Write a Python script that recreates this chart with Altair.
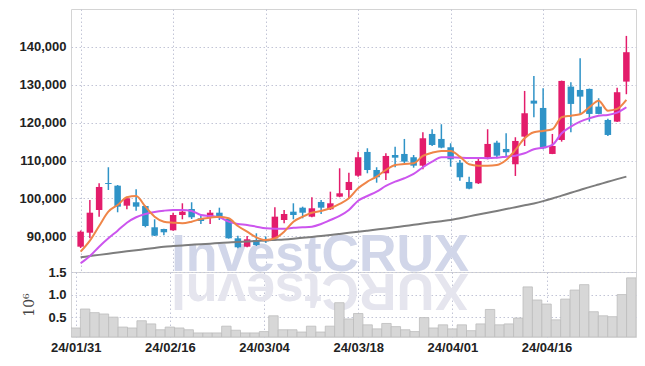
import altair as alt
import pandas as pd

# ---------------- data ----------------
dates = [
    "24/01/31", "24/02/01", "24/02/02", "24/02/05", "24/02/06", "24/02/07", "24/02/08",
    "24/02/13", "24/02/14", "24/02/15", "24/02/16", "24/02/19", "24/02/20", "24/02/21",
    "24/02/22", "24/02/23", "24/02/26", "24/02/27", "24/02/28", "24/02/29", "24/03/04",
    "24/03/05", "24/03/06", "24/03/07", "24/03/08", "24/03/11", "24/03/12", "24/03/13",
    "24/03/14", "24/03/15", "24/03/18", "24/03/19", "24/03/20", "24/03/21", "24/03/22",
    "24/03/25", "24/03/26", "24/03/27", "24/03/28", "24/03/29", "24/04/01", "24/04/02",
    "24/04/03", "24/04/04", "24/04/05", "24/04/08", "24/04/09", "24/04/11", "24/04/12",
    "24/04/15", "24/04/16", "24/04/17", "24/04/18", "24/04/19", "24/04/22", "24/04/23",
    "24/04/24", "24/04/25", "24/04/26", "24/04/29",
]

open_ = [
    87280, 90970, 96960, 104090, 103380, 98100, 99000, 98020, 92400, 91950,
    91600, 95640, 97230, 94770, 94930, 96250, 94590, 89490, 87280, 89040,
    88900, 89490, 94320, 96520, 97570, 95200, 99080, 97150, 100480, 102240,
    106020, 112280, 107520, 106650, 111480, 111750, 110880, 108660, 117030, 115710,
    113520, 109450, 104360, 104010, 110770, 114730, 113070, 109030, 116320, 125820,
    123890, 111750, 115440, 129520, 128640, 128910, 124240, 120720, 120280, 130840,
]
high = [
    91550, 99600, 104010, 108240, 103560, 100480, 102430, 98100, 94510, 92000,
    96250, 98730, 99000, 95910, 96960, 97570, 94700, 90180, 90100, 90810,
    90000, 97680, 96960, 98730, 97840, 100320, 99600, 101800, 107970, 106810,
    112360, 113250, 108240, 111930, 113680, 115710, 111480, 117480, 118270, 119590,
    114570, 110160, 105760, 110610, 118270, 115260, 117210, 116160, 128380, 132340,
    129090, 117030, 131100, 130680, 137010, 129000, 126450, 121070, 129250, 142900,
]
low = [
    86940, 89490, 95200, 102240, 96360, 97150, 96780, 92400, 90100, 90280,
    91500, 94510, 94590, 93270, 93270, 94320, 89400, 86850, 87120, 87460,
    88300, 89230, 93450, 94510, 94770, 95040, 95910, 96960, 100320, 100050,
    105760, 106650, 104170, 104880, 108240, 109290, 108130, 107710, 113860, 113250,
    108390, 104700, 102430, 103830, 110350, 110610, 111220, 105940, 113860, 121440,
    112990, 111700, 115000, 117480, 122310, 120280, 122230, 116500, 120200, 127510,
]
close = [
    91240, 96250, 103040, 103830, 97840, 100050, 97840, 92740, 90180, 91080,
    95640, 96520, 95040, 94060, 96250, 95040, 89490, 87120, 89230, 87720,
    88700, 95200, 95910, 95640, 96250, 97410, 97570, 98730, 101370, 104360,
    110880, 107520, 105600, 111220, 110770, 109720, 108660, 115890, 114120, 113410,
    110350, 105600, 102590, 109900, 114390, 111300, 112200, 115180, 122490, 125030,
    113250, 113860, 131020, 124950, 126880, 122310, 122310, 116760, 128040, 138600,
]
volume = [  # millions of shares
    0.26, 0.68, 0.60, 0.57, 0.50, 0.28, 0.26, 0.42, 0.35, 0.22,
    0.28, 0.26, 0.22, 0.15, 0.15, 0.15, 0.30, 0.21, 0.15, 0.15,
    0.18, 0.53, 0.22, 0.22, 0.17, 0.30, 0.17, 0.30, 0.82, 0.46,
    0.58, 0.33, 0.24, 0.36, 0.29, 0.22, 0.18, 0.49, 0.26, 0.33,
    0.24, 0.33, 0.20, 0.35, 0.67, 0.33, 0.35, 0.48, 1.17, 0.88,
    0.79, 0.44, 0.90, 1.10, 1.22, 0.62, 0.53, 0.51, 1.00, 1.37,
]
ma5 = [
    85960, 88860, 92740, 96520, 98280, 100320, 100660, 97840, 95200, 93880,
    93610, 93450, 93880, 94590, 94930, 95200, 94770, 92740, 91240, 89760,
    89040, 89490, 91240, 93880, 95200, 96250, 96700, 97410, 98550, 100050,
    102690, 104440, 105760, 107520, 108840, 109110, 109290, 111220, 112090, 112540,
    112540, 111040, 109030, 108660, 108660, 108840, 110160, 112800, 115890, 117480,
    117820, 118270, 121440, 121860, 122230, 124080, 125820, 123180, 123630, 126000,
]
ma10 = [
    82890, 84820, 87280, 89490, 91500, 93610, 95040, 95910, 96440, 96780,
    96960, 96960, 96700, 95640, 95380, 95040, 93880, 93270, 93000, 92560,
    92130, 92030, 92030, 92290, 92400, 92560, 93270, 94320, 95380, 96960,
    99420, 100660, 101800, 103300, 104440, 105330, 106470, 108240, 109720, 110880,
    110880, 110770, 110690, 110690, 110610, 110770, 111040, 111300, 111930, 112990,
    113410, 114120, 117210, 118960, 120280, 121170, 121860, 122040, 122650, 124080,
]
ma_long = [
    84480, 84800, 85120, 85430, 85740, 86050, 86350, 86650, 86950, 87250,
    87450, 87620, 87780, 87930, 88080, 88230, 88380, 88520, 88660, 88800,
    88930, 89060, 89200, 89390, 89620, 89860, 90120, 90380, 90650, 90930,
    91210, 91500, 91800, 92100, 92420, 92740, 93060, 93380, 93700, 94010,
    94320, 94800, 95280, 95760, 96240, 96720, 97200, 97700, 98200, 98700,
    99300, 100000, 100750, 101500, 102250, 103000, 103700, 104400, 105100, 105760,
]
tick_idx = [0, 10, 20, 30, 40, 50]
y_ticks = [90000, 100000, 110000, 120000, 130000, 140000]
vol_ticks = [0.5, 1.0, 1.5]
watermark = "InvestCRUX"

# ---------------- frame ----------------
n = len(dates)
df = pd.DataFrame({
    "idx": list(range(n)), "date": dates, "open": open_, "high": high,
    "low": low, "close": close, "volume": volume,
    "ma5": ma5, "ma10": ma10, "malong": ma_long,
})
df["dir"] = ["up" if c >= o else "down" for o, c in zip(open_, close)]

FONT = "Liberation Sans"
UP, DOWN = "#e31c6b", "#2f93c7"
GRID = "#c2c5d6"
DASH = [1.5, 2.5]

label_expr = "".join(f"datum.value == {i} ? '{dates[i]}' : " for i in tick_idx) + "''"

xdom = alt.Scale(domain=[-0.5, n - 0.5], nice=False, zero=False)
color = alt.Color("dir:N", scale=alt.Scale(domain=["up", "down"], range=[UP, DOWN]), legend=None)

x_main = alt.X("idx:Q", scale=xdom, axis=alt.Axis(
    values=tick_idx, labels=False, ticks=False, domain=False, grid=True,
    gridColor=GRID, gridDash=DASH, title=None))

y_main = alt.Y("low:Q", scale=alt.Scale(domain=[80600, 150000], nice=False, zero=False),
               axis=alt.Axis(values=y_ticks, labelExpr="format(datum.value, ',')",
                             ticks=False, domain=False, gridColor=GRID, gridDash=DASH,
                             labelPadding=5, minExtent=58, maxExtent=58, title=None))

base = alt.Chart(df)

wm = alt.Chart(alt.Data(values=[{"t": watermark}])).mark_text(
    font=FONT, fontWeight="bold", fontSize=52, color="#d1d6e9",
    align="center", baseline="alphabetic", clip=True
).encode(x=alt.value(249), y=alt.value(262), text="t:N")

wick = base.mark_rule(strokeWidth=1.5).encode(
    x=x_main, y=y_main, y2="high:Q", color=color)

body = base.mark_bar(size=6.5).encode(
    x="idx:Q", y="open:Q", y2="close:Q", color=color)

def ma_line(field, col):
    return base.mark_line(color=col, strokeWidth=2, interpolate="monotone").encode(
        x="idx:Q", y=f"{field}:Q")

main = alt.layer(
    wm, wick, body,
    ma_line("malong", "#7d7d7d"),
    ma_line("ma10", "#cc55ee"),
    ma_line("ma5", "#ef8548"),
).properties(width=565, height=263)

# volume panel
wm2 = alt.Chart(alt.Data(values=[{"t": watermark[::-1]}])).mark_text(
    font=FONT, fontWeight="bold", fontSize=52, color="#e5e5ee", angle=180,
    align="center", baseline="alphabetic", clip=True
).encode(x=alt.value(249), y=alt.value(2), text="t:N")

vol = base.transform_calculate(
    x0="datum.idx - 0.5", x1="datum.idx + 0.5"
).mark_rect(fill="#d7d7d7", stroke="#bdbdbd", strokeWidth=0.8, clip=True).encode(
    x=alt.X("x0:Q", scale=xdom, axis=alt.Axis(
        values=tick_idx, labelExpr=label_expr, ticks=False, domain=False, grid=True,
        gridColor=GRID, gridDash=DASH, labelPadding=4, title=None, labelFlush=False,
        labelFontSize=13, labelAlign="center")),
    x2="x1:Q",
    y=alt.Y("volume:Q", scale=alt.Scale(domain=[0.06, 1.5], nice=False, zero=False),
            axis=alt.Axis(values=vol_ticks, format=".1f", ticks=False, domain=False,
                          gridColor=GRID, gridDash=DASH, labelPadding=5,
                          minExtent=25, maxExtent=25, title="10⁶",
                          titleFontWeight="normal", titleFontSize=14, titleColor="#444",
                          titlePadding=10, titleFont="DejaVu Serif")),
    y2=alt.datum(0.06),
)

volume_chart = alt.layer(wm2, vol).properties(width=565, height=65)

chart = alt.vconcat(main, volume_chart, spacing=0, bounds="flush").properties(
    padding={"left": 4, "top": 0, "right": 0, "bottom": 0}
).configure_view(stroke="#d4d4d4").configure_axis(
    labelFont=FONT, labelFontSize=13, labelFontWeight="bold", labelColor="#222"
)

chart.save("out.html", embed_options={"renderer": "svg", "actions": False})
